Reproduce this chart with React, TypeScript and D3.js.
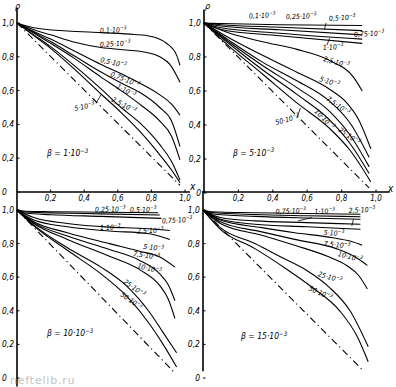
import React from "react";
import * as d3 from "d3";

type P = [number, number];

// ---------- tick values ----------
const xTickValues = [0.2, 0.4, 0.6, 0.8, 1.0];
const rhoTicksTop = [0, 0.2, 0.4, 0.6, 0.8, 1.0];
const rhoTicksBottom = [0, 0.2, 0.4, 0.6, 0.8, 1.0];

// ---------- beta values (×10^-3) ----------
const betaValues = ["1", "5", "10", "15"];

// ---------- panel a: beta = 1·10^-3 ----------
const aParams = ["0,1", "0,25", "0,5", "0,75", "1", "2,5", "5"];
const a01: P[] = [[0, 1], [0.1, 0.972], [0.3, 0.953], [0.5, 0.943], [0.7, 0.932], [0.79, 0.922], [0.89, 0.88], [0.95, 0.81], [0.97, 0.75]];
const a025: P[] = [[0, 1], [0.1, 0.96], [0.2, 0.93], [0.35, 0.885], [0.5, 0.855], [0.65, 0.84], [0.75, 0.83], [0.85, 0.8], [0.91, 0.755], [0.97, 0.65]];
const a05: P[] = [[0, 1], [0.1, 0.95], [0.2, 0.905], [0.35, 0.83], [0.5, 0.755], [0.62, 0.7], [0.73, 0.645], [0.85, 0.575], [0.92, 0.52], [0.97, 0.455]];
const a075: P[] = [[0, 1], [0.1, 0.945], [0.2, 0.89], [0.35, 0.8], [0.5, 0.71], [0.62, 0.645], [0.73, 0.59], [0.85, 0.5], [0.92, 0.42], [0.97, 0.27]];
const a1: P[] = [[0, 1], [0.1, 0.94], [0.2, 0.88], [0.35, 0.785], [0.5, 0.68], [0.62, 0.6], [0.73, 0.52], [0.85, 0.42], [0.92, 0.33], [0.97, 0.19]];
const a25: P[] = [[0, 1], [0.1, 0.93], [0.2, 0.86], [0.35, 0.74], [0.5, 0.61], [0.62, 0.5], [0.73, 0.41], [0.85, 0.28], [0.92, 0.18], [0.97, 0.07]];
const a5: P[] = [[0, 1], [0.1, 0.925], [0.2, 0.85], [0.35, 0.72], [0.5, 0.58], [0.62, 0.47], [0.73, 0.36], [0.85, 0.22], [0.92, 0.13], [0.97, 0.055]];
const aLimit: P[] = [[0, 1], [0.97, 0.04]];

// ---------- panel b: beta = 5·10^-3 ----------
const bParams = ["0,1", "0,25", "0,5", "0,75", "1", "2,5", "5", "7,5", "10", "25", "50"];
const b01: P[] = [[0, 1], [0.05, 0.998], [0.1, 0.997], [0.44, 0.99], [0.92, 0.985]];
const b025: P[] = [[0, 1], [0.05, 0.994], [0.1, 0.99], [0.44, 0.975], [0.92, 0.955]];
const b05: P[] = [[0, 1], [0.05, 0.99], [0.1, 0.982], [0.44, 0.96], [0.92, 0.93]];
const b075: P[] = [[0, 1], [0.05, 0.984], [0.1, 0.972], [0.44, 0.94], [0.92, 0.905]];
const b1: P[] = [[0, 1], [0.05, 0.978], [0.1, 0.962], [0.44, 0.925], [0.92, 0.88]];
const b25: P[] = [[0, 1], [0.15, 0.94], [0.34, 0.89], [0.54, 0.845], [0.73, 0.78], [0.87, 0.68], [0.92, 0.6]];
const b5: P[] = [[0, 1], [0.15, 0.91], [0.34, 0.81], [0.54, 0.71], [0.73, 0.61], [0.83, 0.53], [0.9, 0.43], [0.97, 0.26]];
const b75: P[] = [[0, 1], [0.15, 0.895], [0.34, 0.77], [0.54, 0.66], [0.73, 0.54], [0.85, 0.41], [0.96, 0.21]];
const b10: P[] = [[0, 1], [0.15, 0.885], [0.34, 0.75], [0.54, 0.62], [0.73, 0.48], [0.85, 0.34], [0.96, 0.155]];
const b25b: P[] = [[0, 1], [0.15, 0.875], [0.34, 0.725], [0.54, 0.58], [0.73, 0.43], [0.85, 0.29], [0.96, 0.115]];
const b50: P[] = [[0, 1], [0.15, 0.86], [0.34, 0.7], [0.54, 0.53], [0.73, 0.38], [0.85, 0.25], [0.97, 0.065]];
const bLimit: P[] = [[0, 1], [0.96, 0.03]];

// ---------- panel c: beta = 10·10^-3 ----------
const cParams = ["0,25", "0,5", "0,75", "1", "2,5", "5", "7,5", "10", "25", "50"];
const c025: P[] = [[0, 1], [0.05, 0.993], [0.2, 0.99], [0.5, 0.987], [0.84, 0.984]];
const c05: P[] = [[0, 1], [0.05, 0.988], [0.2, 0.983], [0.5, 0.977], [0.85, 0.97]];
const c075: P[] = [[0, 1], [0.05, 0.982], [0.2, 0.972], [0.5, 0.962], [0.86, 0.95]];
const c1: P[] = [[0, 1], [0.1, 0.955], [0.3, 0.92], [0.55, 0.898], [0.75, 0.89], [0.91, 0.878]];
const c25: P[] = [[0, 1], [0.1, 0.94], [0.3, 0.9], [0.55, 0.875], [0.78, 0.86], [0.91, 0.825]];
const c5: P[] = [[0, 1], [0.1, 0.93], [0.3, 0.865], [0.55, 0.8], [0.73, 0.755], [0.85, 0.72], [0.94, 0.66]];
const c75: P[] = [[0, 1], [0.1, 0.925], [0.3, 0.845], [0.55, 0.765], [0.73, 0.7], [0.85, 0.62], [0.9, 0.555], [0.94, 0.46]];
const c10: P[] = [[0, 1], [0.1, 0.92], [0.3, 0.825], [0.55, 0.725], [0.73, 0.645], [0.85, 0.55], [0.9, 0.47], [0.94, 0.355]];
const c25b: P[] = [[0, 1], [0.1, 0.91], [0.3, 0.775], [0.5, 0.66], [0.65, 0.55], [0.79, 0.39], [0.87, 0.27], [0.95, 0.15]];
const c50: P[] = [[0, 1], [0.1, 0.905], [0.3, 0.76], [0.5, 0.62], [0.65, 0.49], [0.79, 0.32], [0.87, 0.2], [0.95, 0.065]];
const cLimit: P[] = [[0, 1], [0.93, 0.04]];

// ---------- panel d: beta = 15·10^-3 ----------
const dParams = ["", "", "0,75", "1", "2,5", "5", "7,5", "10", "25", "50"];
const d025: P[] = [[0, 1], [0.05, 0.99], [0.3, 0.984], [0.6, 0.979], [0.91, 0.975]];
const d05: P[] = [[0, 1], [0.05, 0.985], [0.3, 0.973], [0.6, 0.966], [0.91, 0.96]];
const d075: P[] = [[0, 1], [0.05, 0.978], [0.3, 0.962], [0.6, 0.952], [0.91, 0.945]];
const d1: P[] = [[0, 1], [0.1, 0.955], [0.3, 0.935], [0.6, 0.925], [0.91, 0.915]];
const d25: P[] = [[0, 1], [0.1, 0.945], [0.3, 0.915], [0.6, 0.9], [0.91, 0.885]];
const d5: P[] = [[0, 1], [0.1, 0.94], [0.34, 0.895], [0.53, 0.865], [0.75, 0.835], [0.85, 0.815], [0.92, 0.79]];
const d75: P[] = [[0, 1], [0.1, 0.93], [0.34, 0.87], [0.53, 0.825], [0.77, 0.77], [0.88, 0.72], [0.95, 0.67]];
const d10: P[] = [[0, 1], [0.1, 0.92], [0.34, 0.85], [0.53, 0.79], [0.73, 0.72], [0.83, 0.67], [0.9, 0.61], [0.95, 0.53]];
const d25b: P[] = [[0, 1], [0.1, 0.895], [0.3, 0.8], [0.45, 0.72], [0.6, 0.64], [0.73, 0.54], [0.85, 0.4], [0.955, 0.186]];
const d50: P[] = [[0, 1], [0.1, 0.885], [0.3, 0.77], [0.48, 0.65], [0.63, 0.54], [0.79, 0.4], [0.89, 0.25], [0.955, 0.097]];
const dLimit: P[] = [[0, 1], [0.93, 0.04]];

// ---------- layout (pixels / label anchors in data units) ----------
const AXIS_Y = 192;
const FONT = "'DejaVu Sans Condensed', 'DejaVu Sans', sans-serif";

type Panel = {
  x0: number; x1: number; rZero: number; rOne: number;
  params: string[]; curves: P[][]; limit: P[];
  labels: [number, number, number][]; // x, rho, rotation
  beta: [number, number];
  leaders: [number, number, number, number][];
  yAxis: [number, number];
  tickSide: "left" | "right";
  rhoTicks: number[];
};

const panels: Panel[] = [
  {
    x0: 17, x1: 185, rZero: 192, rOne: 23,
    params: aParams, curves: [a01, a025, a05, a075, a1, a25, a5], limit: aLimit,
    labels: [[0.494, 0.941, -2], [0.494, 0.858, -3], [0.494, 0.769, 13], [0.554, 0.686, 22], [0.589, 0.615, 28], [0.56, 0.538, 28], [0.345, 0.479, -12]],
    beta: [0.179, 0.213],
    leaders: [[0.47, 0.525, 0.5, 0.575]],
    yAxis: [1.09, 0], tickSide: "left", rhoTicks: rhoTicksTop,
  },
  {
    x0: 204, x1: 376, rZero: 193, rOne: 23,
    params: bParams, curves: [b01, b025, b05, b075, b1, b25, b5, b75, b10, b25b, b50], limit: bLimit,
    labels: [[0.262, 1.027, -2], [0.477, 1.022, -2], [0.727, 1.012, -3], [0.872, 0.918, -3], [0.692, 0.841, -3], [0.692, 0.776, 15], [0.669, 0.659, 18], [0.709, 0.547, 35], [0.64, 0.476, 45], [0.779, 0.365, 35], [0.419, 0.4, -15]],
    beta: [0.169, 0.218],
    leaders: [[0.71, 1.0, 0.7, 0.962], [0.715, 0.87, 0.73, 0.91], [0.54, 0.44, 0.56, 0.5]],
    yAxis: [1.08, 0], tickSide: "right", rhoTicks: rhoTicksTop,
  },
  {
    x0: 17, x1: 185, rZero: 378, rOne: 210,
    params: cParams, curves: [c025, c05, c075, c1, c25, c5, c75, c10, c25b, c50], limit: cLimit,
    labels: [[0.464, 0.988, -1], [0.673, 0.986, -1], [0.863, 0.92, -3], [0.494, 0.881, -1], [0.714, 0.86, -2], [0.75, 0.77, 8], [0.69, 0.726, 8], [0.714, 0.655, 14], [0.631, 0.565, 35], [0.613, 0.49, 35]],
    beta: [0.179, 0.25],
    leaders: [],
    yAxis: [1.11, -0.05], tickSide: "left", rhoTicks: rhoTicksBottom,
  },
  {
    x0: 203, x1: 376, rZero: 378, rOne: 210,
    params: dParams, curves: [d025, d05, d075, d1, d25, d5, d75, d10, d25b, d50], limit: dLimit,
    labels: [[0, 0, 0], [0, 0, 0], [0.42, 0.976, -2], [0.645, 0.976, -2], [0.843, 0.982, -3], [0.697, 0.851, 3], [0.697, 0.786, 6], [0.778, 0.726, 15], [0.662, 0.607, 17], [0.609, 0.524, 25]],
    beta: [0.22, 0.232],
    leaders: [[0.63, 0.955, 0.55, 0.935], [0.87, 0.945, 0.86, 0.905]],
    yAxis: [1.11, 0.04], tickSide: "right", rhoTicks: rhoTicksBottom,
  },
];

const fmt = (v: number) => (v === 0 ? "0" : v.toFixed(1).replace(".", ","));

function ParamLabel({ x, y, rot, text, size = 7 }: { x: number; y: number; rot: number; text: string; size?: number }) {
  return (
    <text x={x} y={y} transform={`rotate(${rot},${x},${y})`} fontSize={size} fontStyle="italic" fontFamily={FONT} fill="#000">
      {text}·10<tspan dy={-3} fontSize={size * 0.72}>−3</tspan>
    </text>
  );
}

function PanelView({ p, idx }: { p: Panel; idx: number }) {
  const xs = d3.scaleLinear().domain([0, 1]).range([p.x0, p.x1]);
  const ys = d3.scaleLinear().domain([0, 1]).range([p.rZero, p.rOne]);
  const line = d3.line<P>().x((d) => xs(d[0])).y((d) => ys(d[1])).curve(d3.curveMonotoneX);
  const tx = p.tickSide === "left" ? 2 : p.x0 - 3;
  const anchor = p.tickSide === "left" ? "start" : "end";
  return (
    <g>
      <line x1={xs(0)} x2={xs(0)} y1={ys(p.yAxis[0])} y2={ys(p.yAxis[1])} stroke="#000" strokeWidth={1.6} />
      {p.rhoTicks.map((t) => (
        <g key={t}>
          <line x1={xs(0)} x2={xs(0) + 2.5} y1={ys(t)} y2={ys(t)} stroke="#000" strokeWidth={1} />
          <text x={tx} y={ys(t) + 3} fontSize={8.5} fontStyle="italic" fontFamily={FONT} textAnchor={anchor}>
            {fmt(t)}
          </text>
        </g>
      ))}
      {p.curves.map((c, i) => (
        <path key={i} d={line(c) || ""} fill="none" stroke="#000" strokeWidth={1.1} />
      ))}
      <path d={line(p.limit) || ""} fill="none" stroke="#000" strokeWidth={1.1} strokeDasharray="7,3.5,1.2,3.5" />
      {p.labels.map((l, i) =>
        p.params[i] ? (
          <ParamLabel key={i} x={xs(l[0])} y={ys(l[1])} rot={l[2]} text={p.params[i]} />
        ) : null
      )}
      {p.leaders.map((l, i) => (
        <line key={i} x1={xs(l[0])} y1={ys(l[1])} x2={xs(l[2])} y2={ys(l[3])} stroke="#000" strokeWidth={0.8} />
      ))}
      <text x={xs(p.beta[0])} y={ys(p.beta[1])} fontSize={8.5} fontStyle="italic" fontFamily={FONT}>
        β = {betaValues[idx]}·10<tspan dy={-3.5} fontSize={6}>−3</tspan>
      </text>
    </g>
  );
}

export default function App() {
  const left = panels[0];
  const right = panels[1];
  const xsL = d3.scaleLinear().domain([0, 1]).range([left.x0, left.x1]);
  const xsR = d3.scaleLinear().domain([0, 1]).range([right.x0, right.x1]);
  return (
    <svg width={396} height={387} style={{ position: "absolute", left: 0, top: 0, background: "#fff" }}>
      <rect width={396} height={387} fill="#fff" />
      <line x1={xsL(0)} x2={xsL(1.03)} y1={AXIS_Y} y2={AXIS_Y} stroke="#000" strokeWidth={1.6} />
      <line x1={xsR(0) - 2} x2={xsR(1.08)} y1={AXIS_Y} y2={AXIS_Y} stroke="#000" strokeWidth={1.6} />
      {xTickValues.map((t) => (
        <g key={t}>
          <line x1={xsL(t)} x2={xsL(t)} y1={AXIS_Y - 2.5} y2={AXIS_Y} stroke="#000" />
          <line x1={xsR(t)} x2={xsR(t)} y1={AXIS_Y - 2.5} y2={AXIS_Y} stroke="#000" />
          <text x={xsL(t)} y={AXIS_Y + 9} fontSize={8} fontStyle="italic" fontFamily={FONT} textAnchor="middle">{fmt(t)}</text>
          <text x={xsR(t)} y={AXIS_Y + 9} fontSize={8} fontStyle="italic" fontFamily={FONT} textAnchor="middle">{fmt(t)}</text>
        </g>
      ))}
      <text x={xsL(1.03)} y={AXIS_Y - 2} fontSize={10} fontStyle="italic" fontFamily={FONT}>x</text>
      <text x={xsR(1.07)} y={AXIS_Y} fontSize={10} fontStyle="italic" fontFamily={FONT}>x</text>
      <text x={left.x0 - 2} y={9} fontSize={9} fontStyle="italic" fontFamily={FONT}>ρ</text>
      <text x={right.x0 + 1} y={9} fontSize={9} fontStyle="italic" fontFamily={FONT}>ρ</text>
      {panels.map((p, i) => (
        <PanelView key={i} p={p} idx={i} />
      ))}
      <text x={10} y={384} fontSize={11} fill="#c4c4c4" fontFamily="'DejaVu Sans', sans-serif" letterSpacing={0.8}>neftelib.ru</text>
    </svg>
  );
}
